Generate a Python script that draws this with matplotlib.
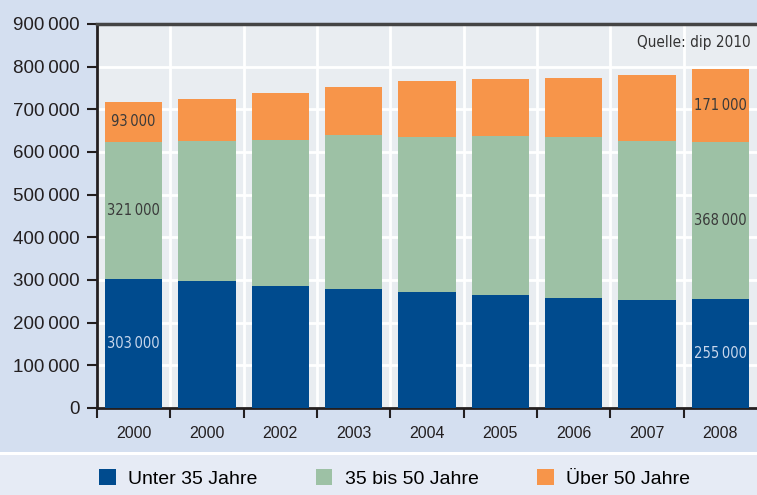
import numpy as np
import matplotlib.pyplot as plt
from matplotlib.patches import Patch, Rectangle
from matplotlib import font_manager

# data (values in persons)
years = ["2000", "2000", "2002", "2003", "2004", "2005", "2006", "2007", "2008"]
unter35 = [303000, 297000, 285000, 278000, 271000, 264000, 257000, 252000, 255000]
mitte35_50 = [321000, 329000, 344000, 362000, 365000, 374000, 377000, 374000, 368000]
ueber50 = [93000, 99000, 110000, 113000, 131000, 132000, 140000, 155000, 171000]
series_names = ["Unter 35 Jahre", "35 bis 50 Jahre", "Über 50 Jahre"]
labelled_bars = [0, 8]
source_note = "Quelle: dip 2010"

colors = ["#004b8e", "#9dc1a5", "#f7954a"]
fig_bg = "#d4dff0"
ax_bg = "#e9edf1"
legend_bg = "#e6ebf5"
dark = "#231f20"

W, H = 757, 495

# look for a narrow/condensed face for the small in-bar numbers
narrow = None
for f in font_manager.fontManager.ttflist:
	if f.stretch in ("condensed", "semi-condensed") or "Narrow" in f.name or "Condensed" in f.name:
		if f.style == "normal" and f.weight in (400, "normal", "regular"):
			narrow = font_manager.FontProperties(fname=f.fname)
			break
if narrow is None:
	narrow = font_manager.FontProperties(family="DejaVu Sans")


def fmt(v):
	return f"{int(v):,}".replace(",", "\u2009")


fig = plt.figure(figsize=(W / 100, H / 100), dpi=100)
fig.patch.set_facecolor(fig_bg)
# lighter band behind the legend, white separator above it
fig.patches.append(Rectangle((0, 0), 1, 40 / H, transform=fig.transFigure,
	facecolor=legend_bg, edgecolor="none", zorder=0))
fig.patches.append(Rectangle((0, 40 / H), 1, 3 / H, transform=fig.transFigure,
	facecolor="white", edgecolor="none", zorder=0))

ax = fig.add_axes([97 / W, (H - 408) / H, 660 / W, 384 / H])
ax.set_facecolor(ax_bg)

x = np.arange(len(years))
stacks = [unter35, mitte35_50, ueber50]
bottom = np.zeros(len(years))
for vals, col in zip(stacks, colors):
	vals = np.array(vals)
	ax.bar(x, vals, bottom=bottom, width=0.78, color=col, zorder=3)
	for i in labelled_bars:
		tc = "#c9d7ec" if col == colors[0] else "#3a3a3a"
		ax.text(x[i], bottom[i] + vals[i] / 2, fmt(vals[i]), ha="center", va="center",
			fontproperties=narrow, fontsize=10.5, color=tc, zorder=4)
	bottom = bottom + vals

ax.set_xlim(-0.5, len(years) - 0.5)
ax.set_ylim(0, 900000)

ax.set_yticks(np.arange(0, 900001, 100000))
ax.set_yticklabels([fmt(v) for v in np.arange(0, 900001, 100000)],
	fontsize=13.5, color=dark, family="Liberation Sans")
ax.set_xticks(np.arange(-0.5, len(years) - 0.5, 1.0))
ax.set_xticklabels([])
ax.set_xticks(x, minor=True)
ax.set_xticklabels(years, minor=True, fontsize=11.5, color=dark, family="Liberation Sans")
ax.tick_params(axis="x", which="major", direction="out", length=7, width=1.5, color=dark)
ax.tick_params(axis="x", which="minor", length=0, pad=13)
ax.tick_params(axis="y", direction="out", length=7, width=1.5, color=dark, pad=5.5)

ax.grid(True, which="major", color="white", linewidth=2, zorder=1)
ax.set_axisbelow(True)

for s in ["left", "bottom"]:
	ax.spines[s].set_color(dark)
	ax.spines[s].set_linewidth(2)
ax.spines["top"].set_color("#444444")
ax.spines["top"].set_linewidth(2.5)
ax.spines["right"].set_visible(False)

ax.text((751 - 97) / 660, (408 - 42) / 384, source_note, transform=ax.transAxes,
	ha="right", va="center", fontproperties=narrow, fontsize=11, color="#333333")

handles = [Patch(facecolor=c, edgecolor="none") for c in colors]
fig.legend(handles, series_names, loc="center left", bbox_to_anchor=(99 / W, 16.5 / H),
	ncol=3, frameon=False, handlelength=0.85, handleheight=0.85,
	handletextpad=0.65, columnspacing=3.0, borderpad=0, borderaxespad=0,
	prop={"family": "Liberation Sans", "size": 14})

fig.savefig("out.png", dpi=100, facecolor=fig.get_facecolor())
